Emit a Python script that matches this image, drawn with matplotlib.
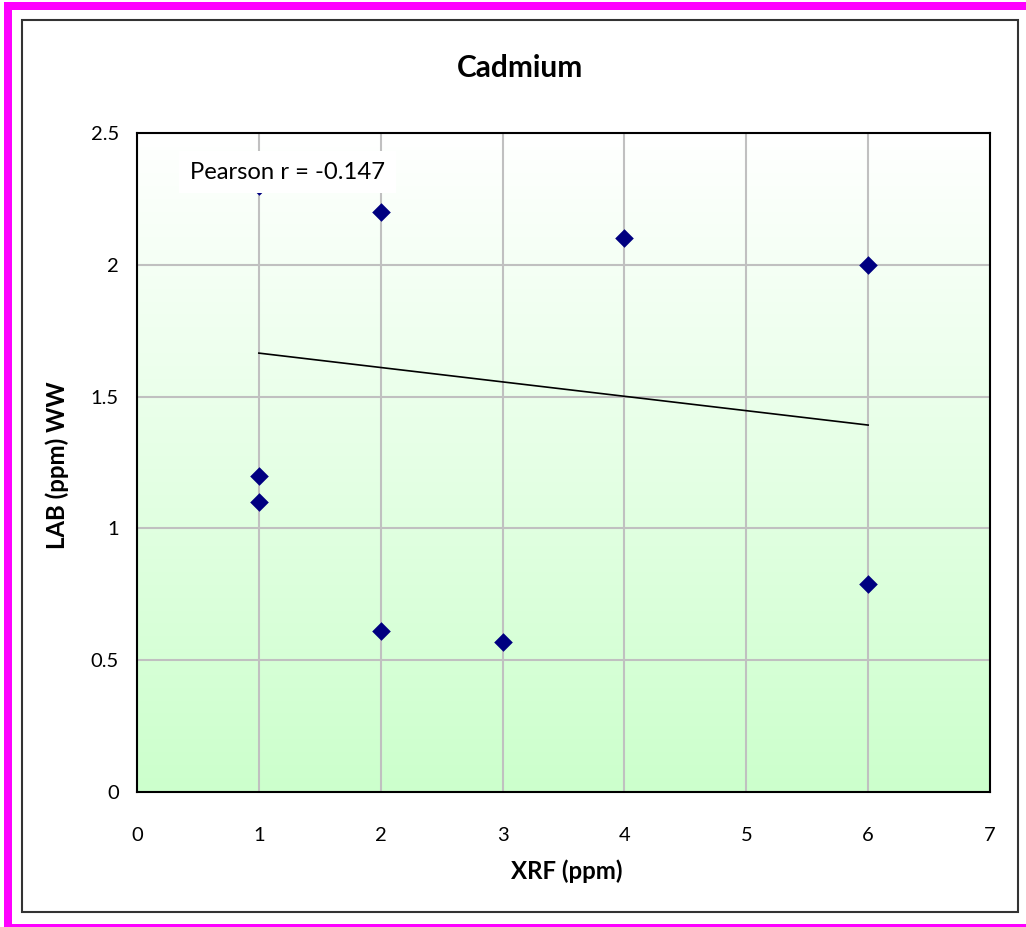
import numpy as np
import matplotlib
matplotlib.use("Agg")
import matplotlib.pyplot as plt
from matplotlib.patches import Rectangle
from matplotlib.colors import LinearSegmentedColormap

plt.rcParams['font.family'] = ['Lato', 'DejaVu Sans']

# Measurements: XRF reading vs laboratory result (wet weight)
xrf_ppm = [1, 1, 1, 2, 2, 3, 4, 6, 6]
lab_ppm = [2.30, 1.20, 1.10, 2.20, 0.61, 0.57, 2.10, 2.00, 0.79]

# Trend line end points
trend_x = [1, 6]
trend_y = [1.665, 1.392]

pearson_r = -0.147

x_ticks = [0, 1, 2, 3, 4, 5, 6, 7]
y_ticks = [0, 0.5, 1, 1.5, 2, 2.5]
y_tick_labels = ['0', '0.5', '1', '1.5', '2', '2.5']

W, H = 1026, 927
fig = plt.figure(figsize=(W / 100, H / 100), dpi=100)

def px_rect(x0, y0, x1, y1, **kw):
    return Rectangle((x0 / W, 1 - y1 / H), (x1 - x0) / W, (y1 - y0) / H,
                     transform=fig.transFigure, **kw)

# Outer magenta frame
fig.patches.append(px_rect(4, 2, 1026, 10, facecolor='#FF00FF', edgecolor='none'))
fig.patches.append(px_rect(4, 2, 12, 927, facecolor='#FF00FF', edgecolor='none'))
fig.patches.append(px_rect(4, 924, 1026, 927, facecolor='#FF00FF', edgecolor='none'))
# Chart area border
fig.patches.append(px_rect(22, 20, 1018, 912, facecolor='none', edgecolor='#333333', linewidth=1.5))

left, right, top, bottom = 137, 990, 133, 792
ax = fig.add_axes([left / W, 1 - bottom / H, (right - left) / W, (bottom - top) / H])

# White (top) to green (bottom) background gradient
grad = LinearSegmentedColormap.from_list('bg', ['#FFFFFF', '#CCFFCC'])
ax.imshow(np.linspace(0, 1, 256).reshape(-1, 1), cmap=grad, aspect='auto',
          origin='upper', extent=[0, 1, 0, 1], transform=ax.transAxes, zorder=0)

ax.set_xlim(0, 7)
ax.set_ylim(0, 2.5)
ax.set_xticks(x_ticks)
ax.set_yticks(y_ticks)
ax.set_yticklabels(y_tick_labels)
ax.set_axisbelow(True)
ax.grid(True, color='#C0C0C0', linewidth=1.5)
ax.tick_params(length=0, labelsize=14.5)
ax.tick_params(axis='x', pad=25)
ax.tick_params(axis='y', pad=13)
for s in ax.spines.values():
    s.set_linewidth(1.5)
    s.set_color('black')
    s.set_zorder(5)

ax.plot(trend_x, trend_y, color='black', linewidth=1.2, zorder=3)
ax.scatter(xrf_ppm, lab_ppm, marker='D', s=90, color='#000080', zorder=4,
           linewidths=0)

ax.text(0.435, 2.352, f'Pearson r = {pearson_r:.3f}', fontsize=17.2, va='center',
        ha='left', zorder=6,
        bbox=dict(boxstyle='square,pad=0.45', facecolor='white', edgecolor='none'))

fig.text(520 / W, 1 - 68 / H, 'Cadmium', fontsize=21.5, fontweight='bold',
         ha='center', va='center')
fig.text(567 / W, 1 - 871 / H, 'XRF (ppm)', fontsize=17.3, fontweight='bold',
         ha='center', va='center')
fig.text(57 / W, 1 - 465 / H, 'LAB (ppm) WW', fontsize=17.3, fontweight='bold',
         ha='center', va='center', rotation=90)

fig.savefig('out.png', dpi=100)
